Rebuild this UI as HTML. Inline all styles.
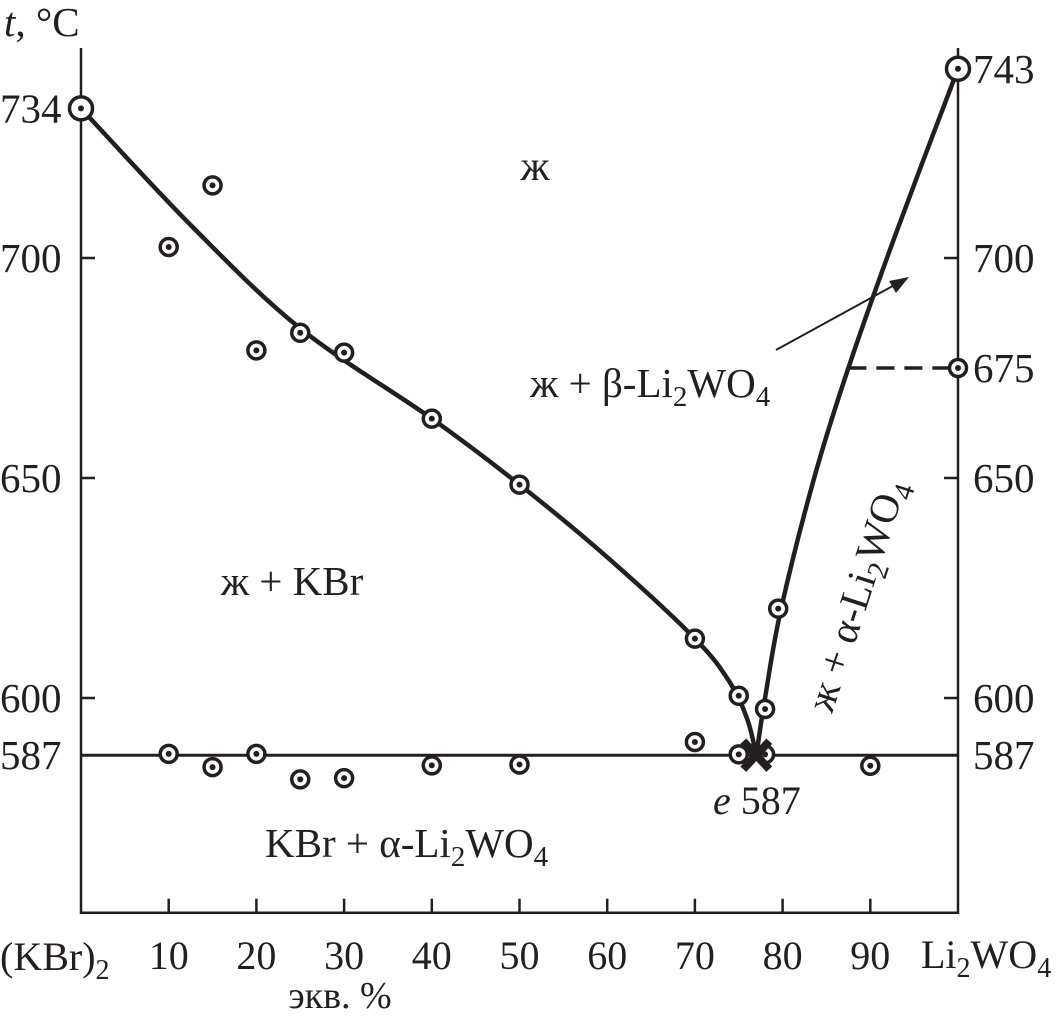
<!DOCTYPE html>
<html><head><meta charset="utf-8"><style>
html,body{margin:0;padding:0;background:#fff;}
svg{display:block;font-family:"Liberation Serif",serif;}
</style></head><body>
<svg id="c" width="1057" height="1022" viewBox="0 0 1057 1022"></svg>
<script>
const xTicks=[10,20,30,40,50,60,70,80,90];
const yTicksLeft=[734,700,650,600,587];
const yTicksRight=[743,700,675,650,600,587];
const leftLiquidusPts=[[0,734],[12.5,707.5],[25,684],[40,663.5],[50,648.5],[60,632],[70,613.5],[74,603.5],[76,595],[77,587]];
const rightLiquidusPts=[[77,587],[78,600],[79.8,620],[83.6,650],[87.5,675],[93,706],[100,743]];
const liquidusDataX=[10,15,20,25,30,40,50,70,75,78,79.5];
const liquidusDataT=[702.5,716.5,679,683,678.5,663.5,648.5,613.5,600.5,597.5,620.3];
const eutDataX=[10,15,20,25,30,40,50,70,75,78,90];
const eutDataT=[587.3,584.3,587.3,581.5,581.8,584.7,584.9,590,587.2,587.2,584.6];
const bigX=[0,100];const bigT=[734,743];
const eutecticT=587, eutecticX=77, betaT=675, betaX=87.5;

const X=v=>81+8.77*v;
const Y=t=>258+(700-t)*4.4;
const svg=document.getElementById('c');
const NS='http://www.w3.org/2000/svg';
function mk(tag,attrs,parent){const e=document.createElementNS(NS,tag);for(const k in attrs)e.setAttribute(k,attrs[k]);(parent||svg).appendChild(e);return e;}
function txt(s,x,y,size,extra){const e=mk('text',Object.assign({x:x,y:y,'font-size':size,fill:'#231f20'},extra||{}));e.innerHTML=s;return e;}

const ax=mk('path',{d:`M${X(0)},48 V${Y(551.2)} H${X(100)} V48`,fill:'none',stroke:'#231f20','stroke-width':2.5});


xTicks.forEach(v=>{const l=mk('line',{x1:X(v),x2:X(v),y1:Y(551.2),y2:Y(551.2)-14,stroke:'#231f20','stroke-width':2.5});


const t=txt(String(v),X(v),969,40,{'text-anchor':'middle'});

});
[700,650,600].forEach(v=>{
const a=mk('line',{x1:X(0),x2:X(0)+14,y1:Y(v),y2:Y(v),stroke:'#231f20','stroke-width':2.5});


const b=mk('line',{x1:X(100),x2:X(100)-14,y1:Y(v),y2:Y(v),stroke:'#231f20','stroke-width':2.5});

});
yTicksLeft.forEach(v=>{const t=txt(String(v),0,Y(v)+14,41);

});
yTicksRight.forEach(v=>{const t=txt(String(v),973,Y(v)+14,41);

});

let e;
e=txt('<tspan font-style="italic">t</tspan>, °C',4,36,41);
e=txt('(KBr)<tspan font-size="28" dy="9">2</tspan>',0,970,40);
e=txt('Li<tspan font-size="28" dy="9">2</tspan><tspan dy="-9">WO</tspan><tspan font-size="28" dy="9">4</tspan>',921,968,40);
e=txt('экв. %',340,1008,38,{'text-anchor':'middle'});

function smooth(pts){const p=pts.map(a=>[X(a[0]),Y(a[1])]);let d=`M${p[0][0]},${p[0][1]}`;
for(let i=0;i<p.length-1;i++){const p0=p[i-1]||p[i],p1=p[i],p2=p[i+1],p3=p[i+2]||p2;
d+=` C${p1[0]+(p2[0]-p0[0])/6},${p1[1]+(p2[1]-p0[1])/6} ${p2[0]-(p3[0]-p1[0])/6},${p2[1]-(p3[1]-p1[1])/6} ${p2[0]},${p2[1]}`;}return d;}
e=mk('path',{d:smooth(leftLiquidusPts),fill:'none',stroke:'#231f20','stroke-width':4.5});

e=mk('path',{d:smooth(rightLiquidusPts),fill:'none',stroke:'#231f20','stroke-width':4.5});

e=mk('line',{x1:X(0),x2:X(100),y1:Y(eutecticT),y2:Y(eutecticT),stroke:'#231f20','stroke-width':3});

e=mk('line',{x1:X(betaX),x2:X(100)-10,y1:Y(betaT),y2:Y(betaT),stroke:'#231f20','stroke-width':3.5,'stroke-dasharray':'18,10'});


function marker(x,t,r,name){const g=mk('g',{});

mk('circle',{cx:X(x),cy:Y(t),r:r,fill:'#fff',stroke:'#231f20','stroke-width':3.5},g);
mk('circle',{cx:X(x),cy:Y(t),r:3,fill:'#231f20'},g);}
liquidusDataX.forEach((x,i)=>marker(x,liquidusDataT[i],8.5,'liquidus-point'));
eutDataX.forEach((x,i)=>marker(x,eutDataT[i],8.5,'eutectic-point'));
bigX.forEach((x,i)=>marker(x,bigT[i],11.5,'melting-point'));
marker(100,betaT,8.5,'transition-point');

e=mk('g',{});
const cx=X(eutecticX),cy=Y(eutecticT);
mk('line',{x1:cx-13,y1:cy-14,x2:cx+13,y2:cy+14,stroke:'#231f20','stroke-width':8},e);
mk('line',{x1:cx-13,y1:cy+14,x2:cx+13,y2:cy-14,stroke:'#231f20','stroke-width':8},e);
e=txt('<tspan font-style="italic">e</tspan> 587',713,814,40);


e=mk('g',{});
mk('line',{x1:776,y1:350,x2:900,y2:282,stroke:'#231f20','stroke-width':2},e);
mk('polygon',{points:'909,277 889,281 896,293',fill:'#231f20'},e);

e=txt('ж',535,180,42,{'text-anchor':'middle'});
e=txt('ж + KBr',292,595,41,{'text-anchor':'middle'});
e=txt('ж + β-Li<tspan font-size="29" dy="9">2</tspan><tspan dy="-9">WO</tspan><tspan font-size="29" dy="9">4</tspan>',530,397,41);
e=txt('KBr + α-Li<tspan font-size="29" dy="9">2</tspan><tspan dy="-9">WO</tspan><tspan font-size="29" dy="9">4</tspan>',265,857,41);
e=txt('ж + α-Li<tspan font-size="29" dy="9">2</tspan><tspan dy="-9">WO</tspan><tspan font-size="29" dy="9">4</tspan>',0,0,41,{transform:'translate(832,714) rotate(-72)'});
</script>
</body></html>
